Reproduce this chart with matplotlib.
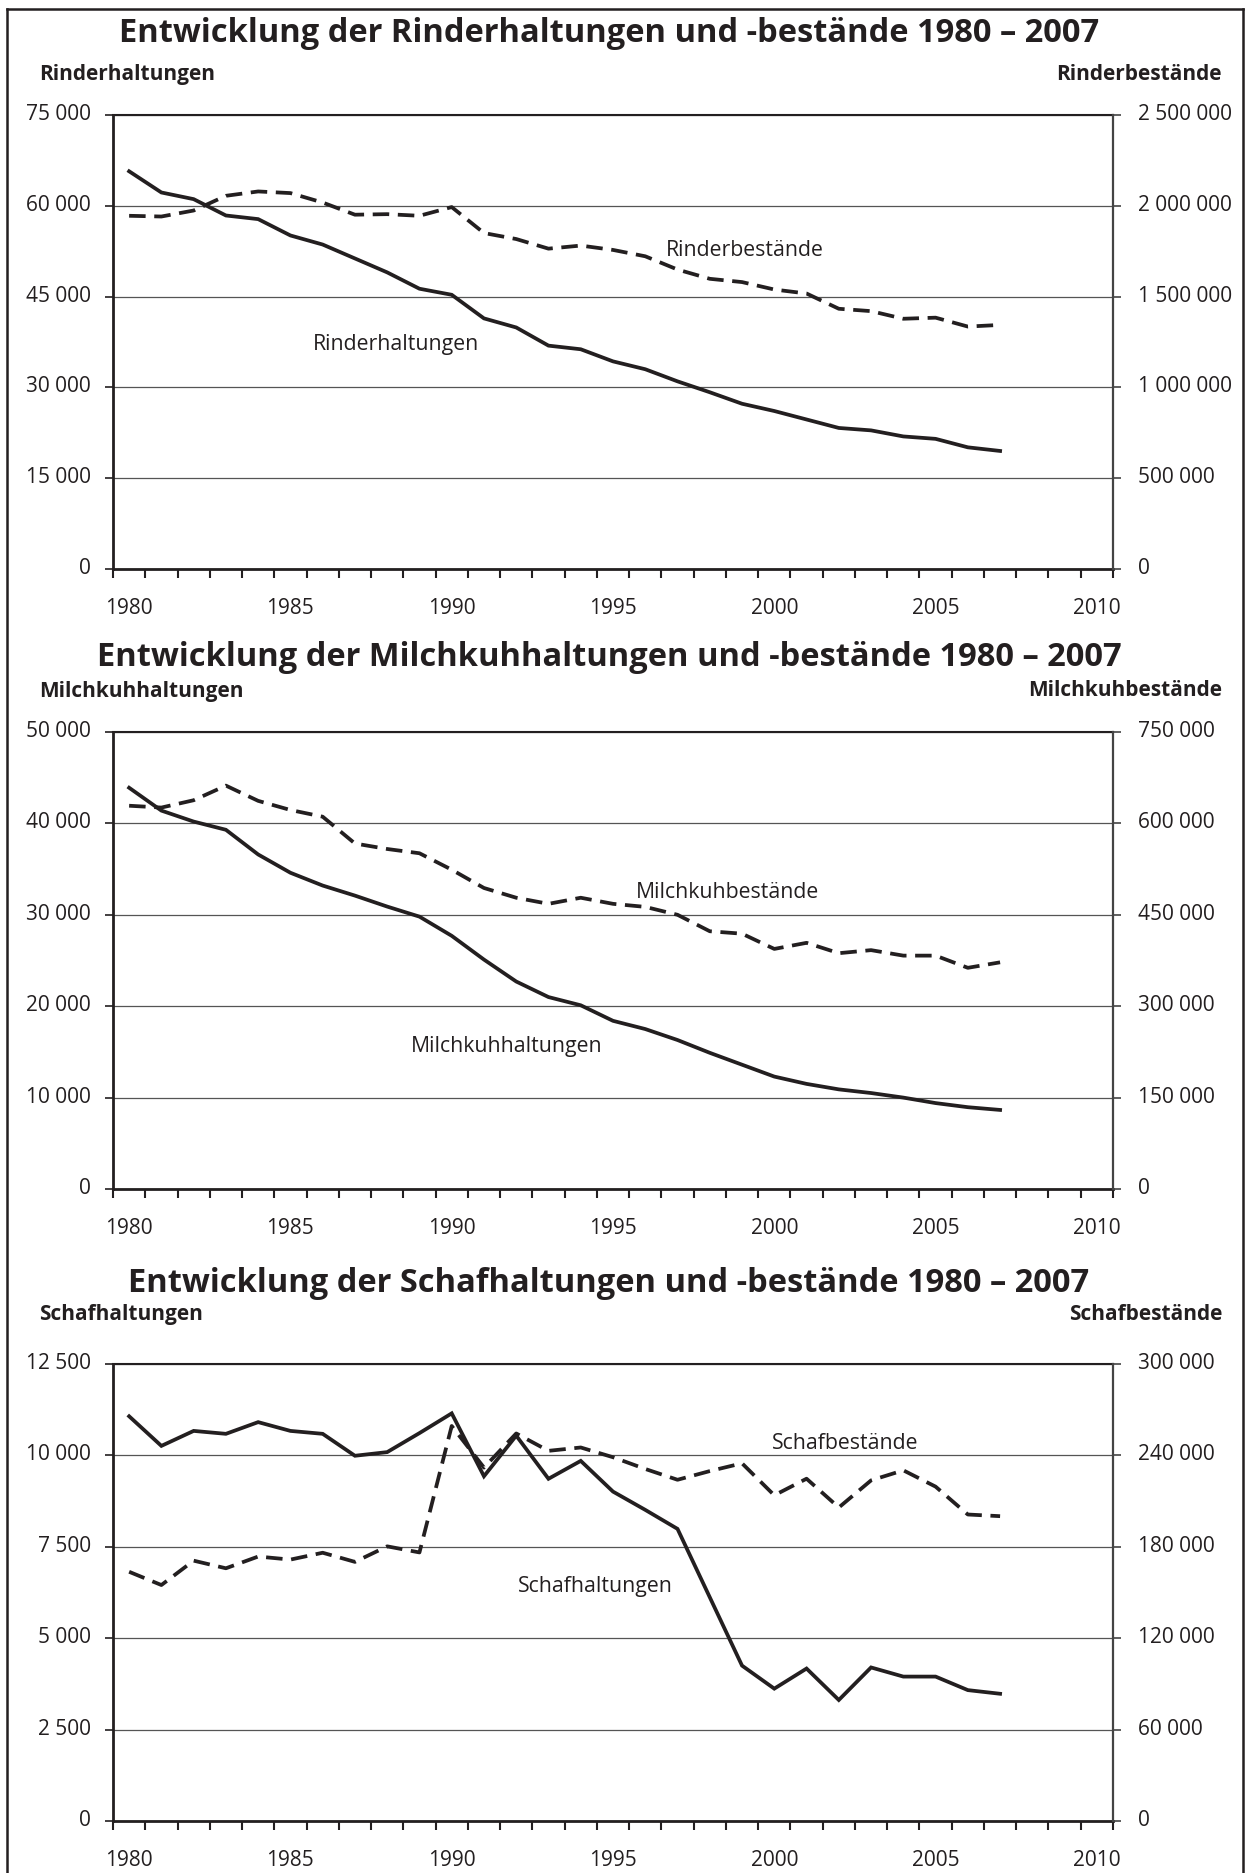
import numpy as np
import matplotlib
matplotlib.use("Agg")
import matplotlib.pyplot as plt
import matplotlib.transforms as mtransforms
from matplotlib.lines import Line2D
from matplotlib.ticker import FixedLocator, FuncFormatter

plt.rcParams['font.family'] = ['Open Sans', 'DejaVu Sans']

# data (1980 - 2007)
years = list(range(1980, 2008))
x_labels = [1980, 1985, 1990, 1995, 2000, 2005, 2010]

rinder_haltungen = [65700, 62200, 61100, 58400, 57800, 55100, 53600, 51300, 49000, 46300,
                    45300, 41400, 39900, 36900, 36300, 34300, 33000, 31000, 29200, 27300,
                    26100, 24700, 23300, 22900, 21900, 21500, 20100, 19500]
rinder_bestaende = [1945000, 1941000, 1974000, 2055000, 2079000, 2070000, 2018000, 1951000,
                    1954000, 1945000, 1993000, 1850000, 1817000, 1764000, 1781000, 1757000,
                    1722000, 1649000, 1598000, 1580000, 1539000, 1517000, 1433000, 1420000,
                    1378000, 1384000, 1335000, 1344000]

milchkuh_haltungen = [43900, 41400, 40200, 39300, 36600, 34600, 33200, 32100, 30900, 29800,
                      27700, 25100, 22700, 21000, 20100, 18400, 17500, 16300, 14900, 13600,
                      12300, 11500, 10900, 10500, 10000, 9400, 8950, 8650]
milchkuh_bestaende = [629000, 626000, 638000, 662000, 637000, 622000, 611000, 567000, 558000,
                      551000, 524000, 494000, 478000, 468000, 478000, 468000, 463000, 450000,
                      423000, 419000, 394000, 404000, 387000, 392000, 383000, 383000, 363000,
                      372000]

schaf_haltungen = [11070, 10260, 10670, 10590, 10910, 10670, 10590, 9990, 10090, 10610,
                   11150, 9430, 10540, 9360, 9850, 9010, 8510, 7990, 6120, 4250,
                   3620, 4170, 3310, 4200, 3950, 3950, 3580, 3480]
schaf_bestaende = [163600, 154900, 170900, 165900, 173600, 171600, 176100, 170100, 180300,
                   176300, 259300, 232000, 254400, 243000, 245200, 238800, 231100, 224000,
                   229700, 234800, 213800, 224700, 205800, 223600, 230200, 219500, 201200,
                   200100]

rinder_left_ticks = [0, 15000, 30000, 45000, 60000, 75000]
rinder_right_ticks = [0, 500000, 1000000, 1500000, 2000000, 2500000]
milch_left_ticks = [0, 10000, 20000, 30000, 40000, 50000]
milch_right_ticks = [0, 150000, 300000, 450000, 600000, 750000]
schaf_left_ticks = [0, 2500, 5000, 7500, 10000, 12500]
schaf_right_ticks = [0, 60000, 120000, 180000, 240000, 300000]

W, H = 1247, 1874
DPI = 100
INK = '#231f20'

fig = plt.figure(figsize=(W / DPI, H / DPI), dpi=DPI)


def fx(px):
    return px / W


def fy(py):
    return 1 - py / H


def fmt(v, pos=None):
    return f"{v:,.0f}".replace(",", " ")


def panel(top, bottom, title_y, sub_y, title, ltitle, rtitle, left_vals, right_vals,
          lticks, rticks, lname, lpos, rname, rpos):
    ax = fig.add_axes([fx(113), fy(bottom), fx(1000), (bottom - top) / H])
    ax2 = ax.twinx()

    ax.set_xlim(1979.5, 2010.5)
    ax.set_ylim(lticks[0], lticks[-1])
    ax2.set_ylim(rticks[0], rticks[-1])

    ax.plot(years, left_vals, color=INK, lw=2.7, solid_joinstyle='miter', zorder=3)
    ax2.plot(years, right_vals, color=INK, lw=2.7, linestyle=(0, (4.4, 2.3)),
             dash_capstyle='butt', zorder=3)

    ax.yaxis.set_major_locator(FixedLocator(lticks))
    ax.yaxis.set_major_formatter(FuncFormatter(fmt))
    ax2.yaxis.set_major_locator(FixedLocator(rticks))
    ax2.yaxis.set_major_formatter(FuncFormatter(fmt))
    ax.grid(axis='y', color='#555555', lw=0.9)
    ax.set_axisbelow(True)

    ax.xaxis.set_major_locator(FixedLocator(x_labels))
    ax.xaxis.set_minor_locator(FixedLocator(np.arange(1979.5, 2011, 1)))
    ax.tick_params(axis='x', which='major', length=0, pad=20, labelsize=15, labelcolor=INK)
    ax.tick_params(axis='x', which='minor', length=6.5, width=1.5, color=INK, direction='out')
    ax.tick_params(axis='y', length=5.8, width=1.2, color=INK, pad=10,
                   labelsize=15, labelcolor=INK)
    ax2.tick_params(axis='y', length=5.8, width=1.2, color='#444444', pad=12,
                    labelsize=15, labelcolor=INK)

    for s in ['left', 'bottom']:
        ax.spines[s].set_linewidth(2)
        ax.spines[s].set_color(INK)
    ax.spines['top'].set_linewidth(1.5)
    ax.spines['top'].set_color(INK)
    ax.spines['right'].set_visible(False)
    for s in ['left', 'bottom', 'top']:
        ax2.spines[s].set_visible(False)
    ax2.spines['right'].set_linewidth(1.6)
    ax2.spines['right'].set_color('#444444')

    # tick labels sit a little above their gridline
    up = mtransforms.ScaledTranslation(0, 4 / DPI, fig.dpi_scale_trans)
    for lab in ax.get_yticklabels() + ax2.get_yticklabels():
        lab.set_transform(lab.get_transform() + up)

    ax.text(lpos[0], lpos[1], lname, fontsize=15.3, color=INK, ha='left', va='center')
    ax.text(rpos[0], rpos[1], rname, fontsize=15.3, color=INK, ha='left', va='center')

    fig.text(fx(609), fy(title_y), title, fontsize=23.5, fontweight='bold', color=INK,
             ha='center', va='center')
    fig.text(fx(39), fy(sub_y), ltitle, fontsize=15, fontweight='bold', color=INK,
             ha='left', va='center')
    fig.text(fx(1222), fy(sub_y), rtitle, fontsize=15, fontweight='bold', color=INK,
             ha='right', va='center')


panel(116, 570, 34, 75, "Entwicklung der Rinderhaltungen und -bestände 1980 – 2007",
      "Rinderhaltungen", "Rinderbestände", rinder_haltungen, rinder_bestaende,
      rinder_left_ticks, rinder_right_ticks,
      "Rinderhaltungen", (1985.7, 37300), "Rinderbestände", (1996.65, 52700))

panel(733, 1190, 657, 691, "Entwicklung der Milchkuhhaltungen und -bestände 1980 – 2007",
      "Milchkuhhaltungen", "Milchkuhbestände", milchkuh_haltungen, milchkuh_bestaende,
      milch_left_ticks, milch_right_ticks,
      "Milchkuhhaltungen", (1988.74, 15700), "Milchkuhbestände", (1995.7, 32600))

panel(1365, 1822, 1284, 1315, "Entwicklung der Schafhaltungen und -bestände 1980 – 2007",
      "Schafhaltungen", "Schafbestände", schaf_haltungen, schaf_bestaende,
      schaf_left_ticks, schaf_right_ticks,
      "Schafhaltungen", (1992.04, 6446), "Schafbestände", (1999.93, 10340))

# frame around the whole page
for xs, ys in [([7, 7], [10, H + 5]), ([7, 1243], [10, 10]), ([1243, 1243], [10, H + 5])]:
    fig.add_artist(Line2D([fx(x) for x in xs], [fy(y) for y in ys], color=INK, lw=1.8))

fig.savefig("out.png", dpi=DPI)
